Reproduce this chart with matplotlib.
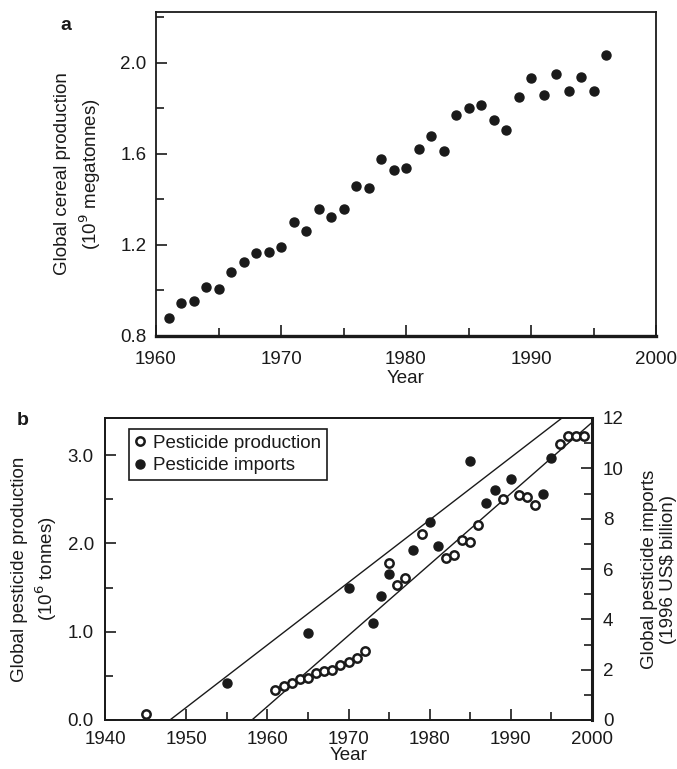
import matplotlib
matplotlib.use("Agg")
import matplotlib.pyplot as plt
from matplotlib.ticker import MultipleLocator

plt.rcParams['font.family'] = ['Liberation Sans', 'DejaVu Sans']
plt.rcParams['font.size'] = 13.5

# Variables

# panel a : global cereal production (10^9 megatonnes)
cereal_years = list(range(1961, 1997))
cereal_prod = [0.88, 0.945, 0.955, 1.015, 1.005, 1.08, 1.125, 1.165, 1.17, 1.19,
               1.30, 1.26, 1.36, 1.325, 1.36, 1.46, 1.45, 1.58, 1.53, 1.54,
               1.62, 1.68, 1.615, 1.77, 1.80, 1.815, 1.75, 1.705, 1.85, 1.935,
               1.86, 1.95, 1.875, 1.94, 1.875, 2.035]

# panel b : pesticide production (10^6 tonnes, left axis)
prod_years = [1945, 1961, 1962, 1963, 1964, 1965, 1966, 1967, 1968, 1969, 1970,
              1971, 1972, 1975, 1976, 1977, 1979, 1982, 1983, 1984, 1985, 1986,
              1989, 1991, 1992, 1993, 1996, 1997, 1998, 1999]
prod_vals = [0.07, 0.34, 0.38, 0.42, 0.46, 0.48, 0.53, 0.55, 0.57, 0.62, 0.66,
             0.70, 0.78, 1.78, 1.53, 1.61, 2.11, 1.83, 1.87, 2.04, 2.02, 2.21,
             2.50, 2.55, 2.52, 2.43, 3.13, 3.22, 3.22, 3.22]

# pesticide imports (1996 US$ billion, right axis)
imp_years = [1955, 1965, 1970, 1973, 1974, 1975, 1978, 1980, 1981, 1985,
             1987, 1988, 1990, 1994, 1995]
imp_vals = [1.47, 3.44, 5.23, 3.86, 4.91, 5.82, 6.77, 7.86, 6.91, 10.3,
            8.63, 9.12, 9.58, 8.98, 10.42]

# fitted lines
prod_fit_years = [1958.1, 2000]
prod_fit_vals = [0.0, 3.37]
imp_fit_years = [1948, 1996.3]
imp_fit_vals = [0.0, 12.0]

ink = '#1a1a1a'

fig = plt.figure(figsize=(6.77, 7.69), dpi=100)

#
# Panel a
#
ax1 = fig.add_axes([156/677, 1-336/769, 500/677, 324/769])
ax1.plot(cereal_years, cereal_prod, 'o', color=ink, ms=6.5)
ax1.set_xlim(1960, 2000)
ax1.set_ylim(0.8, 2.224)
ax1.set_xticks([1960, 1970, 1980, 1990, 2000])
ax1.set_yticks([0.8, 1.2, 1.6, 2.0])
ax1.xaxis.set_minor_locator(MultipleLocator(5))
ax1.yaxis.set_minor_locator(MultipleLocator(0.2))
ax1.tick_params(which='both', direction='in', color=ink, labelcolor=ink, width=1.2)
ax1.tick_params(which='major', length=8)
ax1.tick_params(which='minor', length=6)
ax1.tick_params(axis='x', which='major', pad=11)
ax1.tick_params(axis='y', which='major', pad=7)
for s in ax1.spines.values():
    s.set_linewidth(1.3)
    s.set_color(ink)
ax1.spines['bottom'].set_linewidth(2.4)
ax1.set_xlabel('Year', color=ink, labelpad=1)
ax1.set_ylabel('Global cereal production\n(10$^9$ megatonnes)', color=ink,
               linespacing=1.35, labelpad=12)
fig.text(60/677, 1-25/769, 'a', fontsize=14, fontweight='bold', color=ink,
         ha='left', va='center')

#
# Panel b
#
ax2 = fig.add_axes([105/677, 1-720/769, 487/677, 302/769])
ax3 = ax2.twinx()
ax2.plot(prod_fit_years, prod_fit_vals, '-', color=ink, lw=1.0)
ax3.plot(imp_fit_years, imp_fit_vals, '-', color=ink, lw=1.0)
p1, = ax2.plot(prod_years, prod_vals, 'o', mfc='white', mec=ink, mew=1.8,
               ms=6, label='Pesticide production')
p2, = ax3.plot(imp_years, imp_vals, 'o', color=ink, ms=6.5,
               label='Pesticide imports')
ax2.set_xlim(1940, 2000)
ax2.set_ylim(0, 3.42)
ax3.set_ylim(0, 12)
ax2.set_xticks([1940, 1950, 1960, 1970, 1980, 1990, 2000])
ax2.set_yticks([0.0, 1.0, 2.0, 3.0])
ax2.set_yticklabels(['0.0', '1.0', '2.0', '3.0'])
ax3.set_yticks([0, 2, 4, 6, 8, 10, 12])
ax2.xaxis.set_minor_locator(MultipleLocator(5))
ax2.yaxis.set_minor_locator(MultipleLocator(0.5))
ax3.yaxis.set_minor_locator(MultipleLocator(1))
for a in (ax2, ax3):
    a.tick_params(which='both', direction='in', color=ink, labelcolor=ink, width=1.2)
    a.tick_params(which='major', length=8)
    a.tick_params(which='minor', length=6)
    a.tick_params(axis='x', which='major', pad=8)
    a.tick_params(axis='y', which='major', pad=8)
    for s in a.spines.values():
        s.set_linewidth(1.3)
        s.set_color(ink)
ax3.spines['right'].set_linewidth(2.2)
ax2.set_xlabel('Year', color=ink, labelpad=-1)
ax2.set_ylabel('Global pesticide production\n(10$^6$ tonnes)', color=ink,
               linespacing=1.3, labelpad=6)
ax3.set_ylabel('Global pesticide imports\n(1996 US$ billion)', color=ink,
               linespacing=1.2, rotation=90, labelpad=12)
fig.text(17/677, 1-420/769, 'b', fontsize=14, fontweight='bold', color=ink,
         ha='left', va='center')

leg = ax3.legend(handles=[p1, p2], loc='upper left',
                 bbox_to_anchor=(0.049, 0.964), borderaxespad=0,
                 fancybox=False, edgecolor=ink, framealpha=1,
                 handlelength=0.6, handletextpad=0.4, labelspacing=0.3,
                 borderpad=0.3, fontsize=13.5)
leg.get_frame().set_linewidth(1.2)
for t in leg.get_texts():
    t.set_color(ink)

plt.savefig('out.png', dpi=100)
